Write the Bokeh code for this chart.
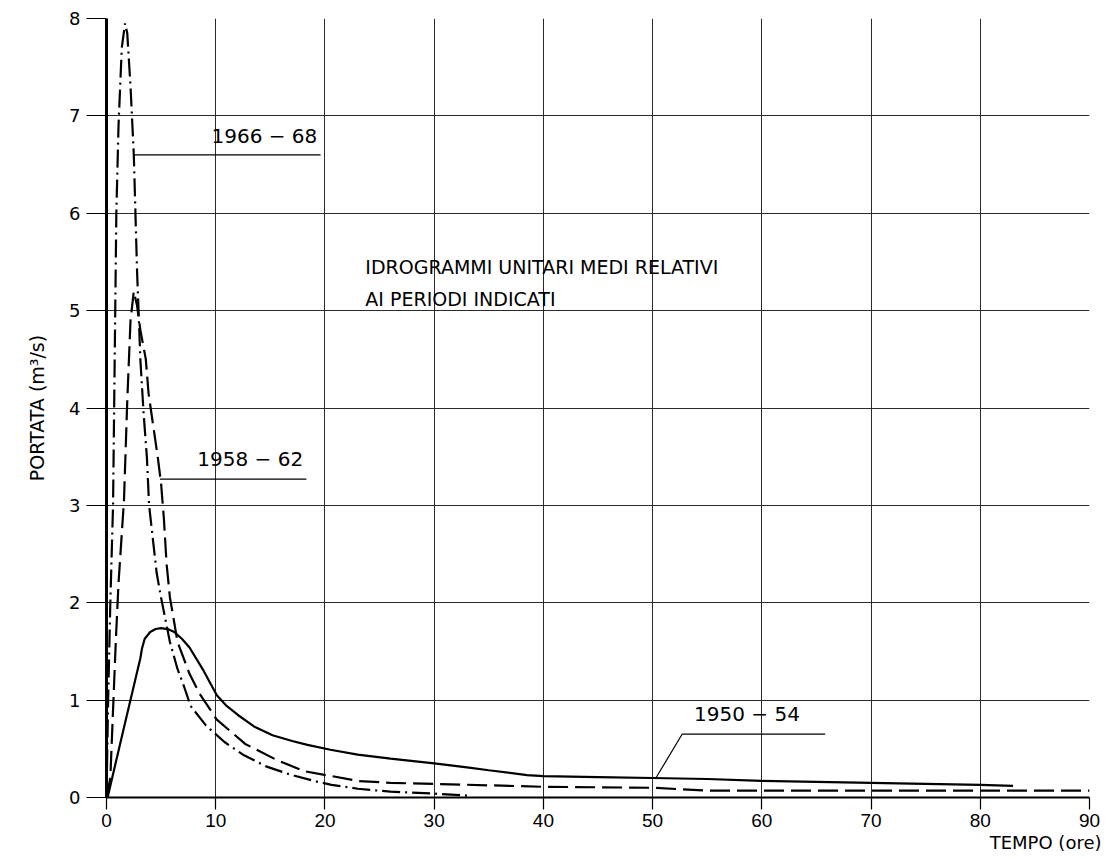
from bokeh.plotting import figure
from bokeh.models import Range1d, FixedTicker, Label, Title
from bokeh.embed import file_html
from bokeh.resources import INLINE

# ---- data ----
x_1966 = [0, 0.15, 0.35, 0.6, 0.75, 0.9, 1.1, 1.4, 1.7, 1.9, 2.2, 2.5, 2.8, 3.1, 3.4, 3.7, 3.9, 4.3, 4.6, 5.0,
          5.8, 6.5, 7.1, 7.7, 9.1, 10.8, 12.5, 14.6, 16.7, 19.0, 20.6, 23.0, 26.0, 30.0, 33.0]
y_1966 = [0, 1.0, 2.0, 3.0, 4.5, 6.0, 6.9, 7.7, 7.95, 7.85, 7.3, 6.6, 5.4, 4.5, 3.94, 3.49, 3.0, 2.6, 2.3, 2.05,
          1.6, 1.32, 1.14, 0.94, 0.74, 0.57, 0.44, 0.32, 0.24, 0.17, 0.13, 0.09, 0.06, 0.04, 0.02]

x_1958 = [0, 0.35, 0.6, 0.85, 1.1, 1.6, 1.9, 2.2, 2.5, 2.8, 3.1, 3.6, 3.85, 4.3, 4.7, 5.0, 5.25, 5.5, 5.8,
          6.5, 7.6, 8.5, 10.1, 12.7, 15.5, 18.1, 20.6, 23.0, 26.0, 30.0, 40.0, 50.0, 55.0, 70.0, 90.0]
y_1958 = [0, 0.2, 0.9, 1.6, 2.2, 3.05, 4.07, 4.9, 5.2, 5.05, 4.8, 4.5, 4.15, 3.8, 3.49, 3.22, 2.87, 2.4, 2.06,
          1.6, 1.27, 1.07, 0.80, 0.55, 0.39, 0.27, 0.22, 0.17, 0.15, 0.14, 0.11, 0.10, 0.07, 0.07, 0.07]

x_1950 = [0.1, 1.6, 3.1, 3.25, 3.5, 4.0, 4.5, 5.0, 5.6, 6.2, 6.9, 7.6, 8.9, 10.1, 11.0, 12.0, 13.5, 15.2, 17.0,
          18.4, 20.5, 23.0, 26.0, 30.0, 33.0, 35.0, 38.5, 40.0, 45.0, 50.0, 55.0, 60.0, 70.0, 80.0, 83.0]
y_1950 = [0.0, 0.72, 1.43, 1.53, 1.63, 1.70, 1.73, 1.74, 1.73, 1.70, 1.63, 1.54, 1.30, 1.05, 0.94, 0.85, 0.73,
          0.64, 0.58, 0.54, 0.49, 0.44, 0.40, 0.35, 0.31, 0.28, 0.23, 0.22, 0.21, 0.20, 0.19, 0.17, 0.15, 0.13, 0.12]

x_ticks = [0, 10, 20, 30, 40, 50, 60, 70, 80, 90]
y_ticks = [0, 1, 2, 3, 4, 5, 6, 7, 8]
series_labels = ["1966 \u2212 68", "1958 \u2212 62", "1950 \u2212 54"]

FONT = "Liberation Sans"
FONT2 = "DejaVu Sans"

p = figure(width=1108, height=859, output_backend="svg", toolbar_location=None,
           x_range=Range1d(0, 90), y_range=Range1d(0, 8),
           min_border_left=106, min_border_right=19, min_border_top=18, min_border_bottom=62)
p.outline_line_color = None
p.background_fill_color = "white"
p.border_fill_color = "white"

# grid
for g in (p.xgrid, p.ygrid):
    g.grid_line_color = "#2a2a2a"
    g.grid_line_width = 1
p.xgrid.ticker = FixedTicker(ticks=x_ticks)
p.ygrid.ticker = FixedTicker(ticks=y_ticks)

# axes
p.xaxis.ticker = FixedTicker(ticks=x_ticks)
p.yaxis.ticker = FixedTicker(ticks=y_ticks)
p.xaxis.minor_tick_line_color = None
p.yaxis.minor_tick_line_color = None
p.yaxis.axis_line_width = 3
p.xaxis.axis_line_width = 2
p.yaxis.major_tick_out = 20
p.yaxis.major_tick_in = 0
p.xaxis.major_tick_out = 12
p.xaxis.major_tick_in = 0
p.yaxis.major_label_standoff = 6
p.xaxis.major_label_standoff = 4
for ax in (p.xaxis, p.yaxis):
    ax.major_label_text_color = "black"
    ax.axis_line_color = "black"
    ax.major_tick_line_color = "black"
    ax.major_tick_line_width = 1.2
p.yaxis.major_label_text_font = FONT2
p.yaxis.major_label_text_font_size = "18px"
p.xaxis.major_label_text_font = FONT
p.xaxis.major_label_text_font_size = "19px"
p.yaxis.axis_label = "PORTATA (m\u00b3/s)"
p.yaxis.axis_label_text_font = FONT2
p.yaxis.axis_label_text_font_style = "normal"
p.yaxis.axis_label_text_color = "black"
p.yaxis.axis_label_text_font_size = "19px"
p.yaxis.axis_label_standoff = 18

# x-axis title at the bottom right
p.add_layout(Title(text="TEMPO (ore)", align="right", text_font=FONT2, text_font_size="18px",
                   text_font_style="normal", text_color="black", standoff=0, offset=-12), "below")

# curves
p.line(x_1966, y_1966, line_color="black", line_width=2.2, line_dash="18 5 2 5")
p.line(x_1958, y_1958, line_color="black", line_width=2.2, line_dash="20 7")
p.line(x_1950, y_1950, line_color="black", line_width=2.2)

# leader lines
p.line([2.5, 19.6], [6.6, 6.6], line_color="black", line_width=1.2)
p.line([4.9, 18.3], [3.27, 3.27], line_color="black", line_width=1.2)
p.line([50.3, 52.7, 65.8], [0.2, 0.65, 0.65], line_color="black", line_width=1.2)

lab_kw = dict(text_font=FONT2, text_font_size="20px", text_color="black")
p.add_layout(Label(x=19.3, y=6.67, text=series_labels[0], text_align="right", **lab_kw))
p.add_layout(Label(x=18.0, y=3.35, text=series_labels[1], text_align="right", **lab_kw))
p.add_layout(Label(x=53.8, y=0.73, text=series_labels[2], text_align="left", **lab_kw))

note_kw = dict(text_font=FONT2, text_font_size="19px", text_color="black", text_align="left")
p.add_layout(Label(x=23.7, y=5.34, text="IDROGRAMMI UNITARI  MEDI RELATIVI", **note_kw))
p.add_layout(Label(x=23.7, y=5.01, text="AI PERIODI  INDICATI", **note_kw))

open("out.html", "w").write(file_html(p, INLINE))
